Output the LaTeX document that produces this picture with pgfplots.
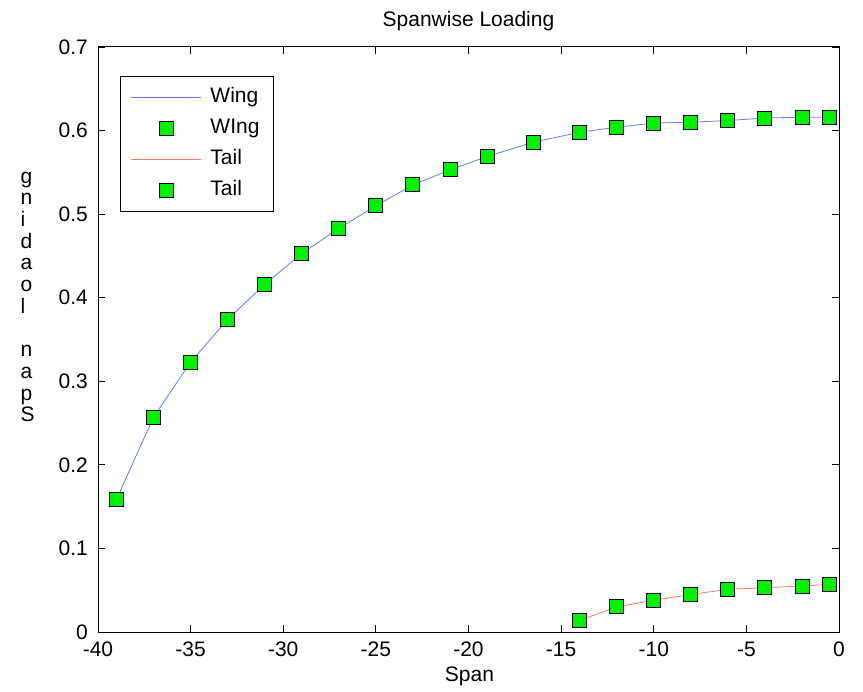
\documentclass[border=0pt]{standalone}
\usepackage{pgfplots}
\usepackage{pgfplotstable}
\pgfplotsset{compat=1.18}
\usepackage{fontspec}
\setmainfont{Liberation Sans}
\definecolor{wingblue}{RGB}{95,125,255}
\definecolor{tailred}{RGB}{255,120,100}
\definecolor{mkgreen}{RGB}{0,240,0}
\pgfplotsset{
  wingleg/.style={legend image code/.code={
    \pgfpathrectangle{\pgfpoint{0pt}{-1pt}}{\pgfpoint{70pt}{2pt}}\pgfusepath{discard}
    \pgfsetstrokecolor{wingblue}\pgfsetlinewidth{1pt}
    \pgfpathmoveto{\pgfpoint{0pt}{0pt}}\pgfpathlineto{\pgfpoint{70pt}{0pt}}\pgfusepath{stroke}}},
  tailleg/.style={legend image code/.code={
    \pgfpathrectangle{\pgfpoint{0pt}{-1pt}}{\pgfpoint{70pt}{2pt}}\pgfusepath{discard}
    \pgfsetstrokecolor{tailred}\pgfsetlinewidth{1pt}
    \pgfpathmoveto{\pgfpoint{0pt}{0pt}}\pgfpathlineto{\pgfpoint{70pt}{0pt}}\pgfusepath{stroke}}},
  mymarklegend/.style={legend image code/.code={
    \pgfpathrectangle{\pgfpoint{0pt}{-1pt}}{\pgfpoint{70pt}{2pt}}\pgfusepath{discard}
    \draw[##1] plot coordinates {(35pt,0pt)};}},
}
\pgfplotstableread{
x y
-39 0.159
-37 0.257
-35 0.323
-33 0.374
-31 0.416
-29 0.453
-27 0.483
-25 0.510
-23 0.535
-21 0.553
-19 0.569
-16.5 0.586
-14 0.598
-12 0.604
-10 0.609
-8 0.610
-6 0.612
-4 0.615
-2 0.616
-0.5 0.616
}\wingtable
\pgfplotstableread{
x y
-14 0.014
-12 0.030
-10 0.038
-8 0.045
-6 0.051
-4 0.053
-2 0.055
-0.5 0.057
}\tailtable
\begin{document}
\begin{tikzpicture}
\begin{axis}[
  name=ax,
  at={(0pt,0pt)}, anchor=south west,
  width=741pt, height=585pt, scale only axis,
  xmin=-40, xmax=0, ymin=0, ymax=0.7,
  xtick={-40,-35,-30,-25,-20,-15,-10,-5,0},
  ytick={0,0.1,0.2,0.3,0.4,0.5,0.6,0.7},
  yticklabels={0,0.1,0.2,0.3,0.4,0.5,0.6,0.7},
  tick align=inside,
  major tick length=7pt,
  tick style={black, line width=0.8pt},
  axis line style={black, line width=1pt},
  /pgf/number format/assume math mode=true,
  ticklabel style={font=\fontsize{21}{25}\selectfont, inner sep=0pt},
  xticklabel style={anchor=north, yshift=-9.5pt},
  yticklabel style={anchor=east, xshift=-10pt},
  legend cell align=left,
  legend style={
    at={(rel axis cs:0.0297,0.951)}, anchor=north west,
    draw=black, line width=0.9pt, fill=white,
    inner xsep=10pt, inner ysep=8pt,
    font=\fontsize{21}{25}\selectfont,
    row sep=5pt, column sep=5pt,
    nodes={inner xsep=4pt, inner ysep=3pt, text height=15pt, text depth=5pt},
  },
]
\addplot[color=wingblue, line width=0.8pt, no marks, wingleg] table[x=x,y=y] {\wingtable};
\addlegendentry{Wing}
\addplot[only marks, mark=square*, mark size=7pt, mark options={fill=mkgreen, draw=black, line width=0.9pt}, mymarklegend] table[x=x,y=y] {\wingtable};
\addlegendentry{WIng}
\addplot[color=tailred, line width=0.8pt, no marks, tailleg] table[x=x,y=y] {\tailtable};
\addlegendentry{Tail}
\addplot[only marks, mark=square*, mark size=7pt, mark options={fill=mkgreen, draw=black, line width=0.9pt}, mymarklegend] table[x=x,y=y] {\tailtable};
\addlegendentry{Tail}
\end{axis}
\node[anchor=base, inner sep=0pt, font=\fontsize{21}{25}\selectfont] at ([shift={(370.5pt,605pt)}]ax.south west) {Spanwise Loading};
\node[anchor=base, inner sep=0pt, font=\fontsize{21}{25}\selectfont] at ([shift={(371.5pt,-49.7pt)}]ax.south west) {Span};
\node[anchor=north west, inner sep=0pt, align=left, font=\fontsize{21}{21.7}\selectfont] at ([shift={(-77.5pt,460.3pt)}]ax.south west) {g\\n\\i\\d\\a\\o\\l\\\strut\\n\\a\\p\\S};
\pgfresetboundingbox
\path[use as bounding box] ([shift={(-98pt,-60pt)}]ax.south west) rectangle ([shift={(24pt,47pt)}]ax.north east);
\end{tikzpicture}
\end{document}
